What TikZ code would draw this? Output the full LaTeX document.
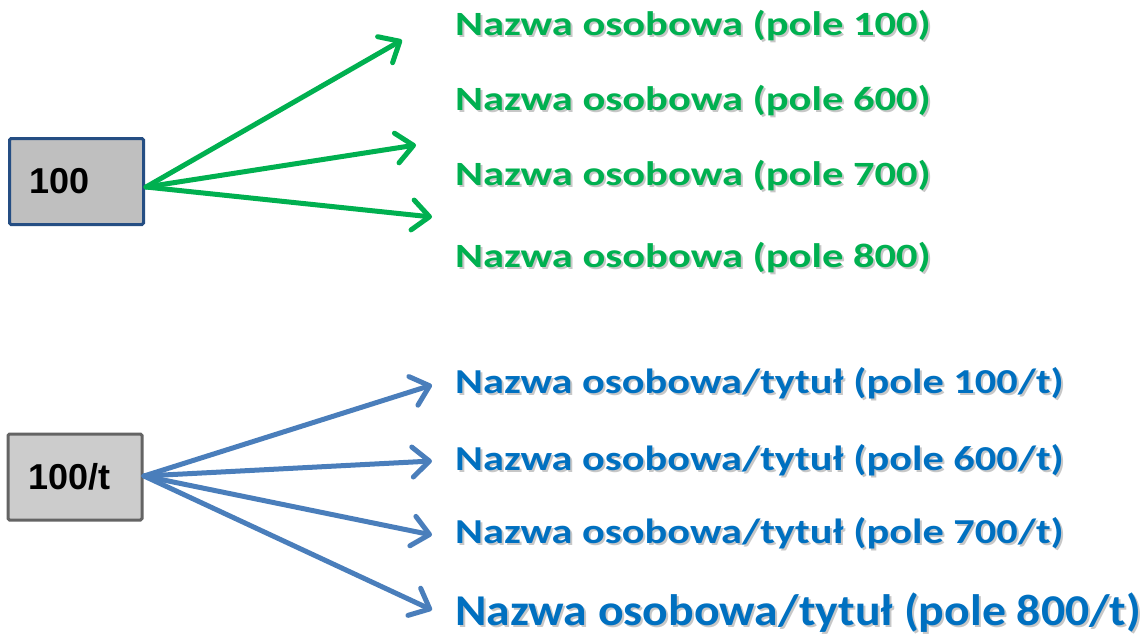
\documentclass[tikz,border=0pt]{standalone}
\usepackage{fontspec}
\setmainfont{Carlito}
\newfontfamily\arialfont{Liberation Sans}
\newfontfamily\gfont[FakeStretch=1.25]{Carlito}
\newfontfamily\bfont[FakeStretch=1.21]{Carlito}
\newfontfamily\bigfont[FakeStretch=1.085]{Carlito}
\usetikzlibrary{arrows.meta}
\definecolor{grn}{HTML}{00B050}
\definecolor{bluetxt}{HTML}{0070C0}
\definecolor{bluearr}{HTML}{4A7EBB}
\definecolor{boxblue}{HTML}{254E83}
\definecolor{boxgrey}{HTML}{646464}
\tikzset{
  srcbox/.style={draw, line width=3pt, rounded corners=1.5pt, minimum width=134pt, minimum height=86pt,
     inner xsep=20pt, text width=94pt, align=left, font=\arialfont\bfseries\fontsize{36}{40}\selectfont},
  arr/.style={line width=5pt, line cap=round, -{Straight Barb[length=17pt,width=30pt,line cap=round,line join=round]}},
  lbl/.style={anchor=base west, inner sep=0pt},
  gtxt/.style={lbl, font=\gfont\bfseries\fontsize{34}{40}\selectfont},
  btxt/.style={lbl, font=\bfont\bfseries\fontsize{35}{40}\selectfont},
  bigtxt/.style={lbl, font=\bigfont\bfseries\fontsize{44}{50}\selectfont},
  shd/.style={text=black, opacity=0.22},
}
\begin{document}
\begin{tikzpicture}[x=1pt,y=-1pt]
\useasboundingbox (0,0) rectangle (1145,638);
% source boxes
\node[srcbox, fill=black!25, draw=boxblue] (b1) at (76.5,181.5) {100};
\node[srcbox, fill=black!20, draw=boxgrey] (b2) at (75,477) {100/t};
% green labels (with shadow)
\foreach \n/\y/\t in {g1/35/100, g2/110/600, g3/185/700, g4/267/800}{
  \node[gtxt, shd] (\n s) at (457,\y+2) {Nazwa osobowa (pole \t)};
  \node[gtxt, text=grn] (\n) at (455,\y) {Nazwa osobowa (pole \t)};
}
% blue labels
\foreach \n/\y/\t in {u1/393/100, u2/470/600, u3/543/700}{
  \node[btxt, shd] (\n s) at (457,\y+2) {Nazwa osobowa/tytuł (pole \t/t)};
  \node[btxt, text=bluetxt] (\n) at (455,\y) {Nazwa osobowa/tytuł (pole \t/t)};
}
\node[bigtxt, shd] (u4s) at (457,627) {Nazwa osobowa/tytuł (pole 800/t)};
\node[bigtxt, text=bluetxt] (u4) at (455,625) {Nazwa osobowa/tytuł (pole 800/t)};
% arrow tips
\coordinate (ga) at (402,40);
\coordinate (gb) at (416,145);
\coordinate (gc) at (432,217);
\coordinate (ua) at (432,385);
\coordinate (ub) at (432,461);
\coordinate (uc) at (432,535);
\coordinate (ud) at (432,610);
\coordinate (gs) at (146,187);
\coordinate (us) at (144,476);
\foreach \e in {ga,gb,gc} \draw[arr, grn] (gs) -- (\e);
\foreach \e in {ua,ub,uc,ud} \draw[arr, bluearr] (us) -- (\e);
\end{tikzpicture}
\end{document}
